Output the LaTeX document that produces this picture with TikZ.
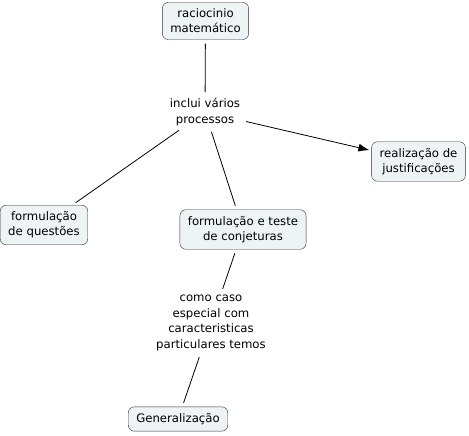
\documentclass[tikz,border=0pt]{standalone}
\usepackage{fontspec}
\setmainfont{DejaVu Sans}
\usetikzlibrary{positioning,arrows.meta}
\definecolor{boxfill}{RGB}{238,243,246}
\definecolor{boxline}{RGB}{50,50,50}
\begin{document}
\begin{tikzpicture}[
    x=1pt, y=-1pt,
    box/.style={draw=boxline, fill=boxfill, rounded corners=6pt, align=center,
        inner xsep=8pt, inner ysep=6.5pt, font=\fontsize{11.7}{15}\selectfont},
    link/.style={align=center, inner sep=2pt, font=\fontsize{11.7}{15.7}\selectfont},
    conn/.style={draw=black, line width=0.8pt, shorten <=4pt, shorten >=4pt},
]
\useasboundingbox (0,0) rectangle (469,436);

% Concepts
\node[box] (racio) at (205.5, 21) {raciocinio\\matemático};
\node[box] (justif) at (418.5, 161.5) {realização de\\justificações};
\node[box] (questoes) at (44, 225) {formulação\\de questões};
\node[box] (conjet) at (243, 229.5) {formulação e teste\\de conjeturas};
\node[box] (general) at (178, 419) {Generalização};

% Linking phrases
\node[link] (inclui) at (205, 112) {inclui vários\\processos};
\node[link] (caso) at (211, 323) {como caso\\especial com\\caracteristicas\\particulares temos};

% Connectors
\draw[conn] (racio) -- (inclui);
\draw[conn] (inclui) -- (questoes);
\draw[conn] (inclui) -- (conjet);
\draw[conn, -{Latex[length=11pt,width=8pt]}, shorten >=2pt] (inclui) -- (justif);
\draw[conn] (conjet) -- (caso);
\draw[conn] (caso) -- (general);
\end{tikzpicture}
\end{document}
